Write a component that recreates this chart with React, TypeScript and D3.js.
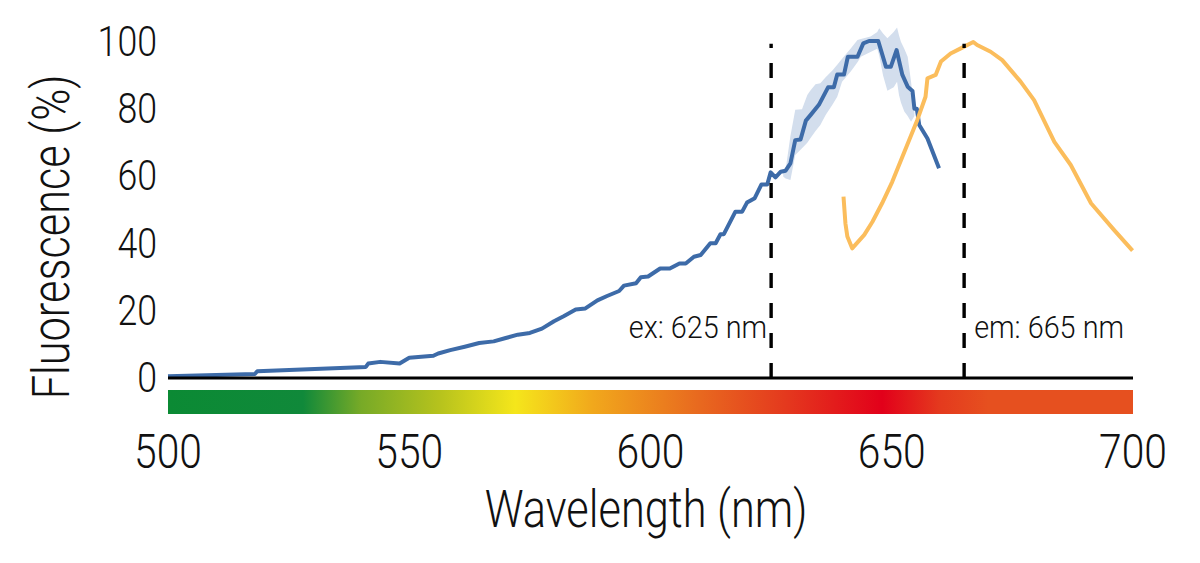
import React from 'react';
import * as d3 from 'd3';

// excitation spectrum (blue)
const exNm = [500, 518, 518.5, 541, 541.5, 544, 548, 550, 555, 556, 558.5, 561.5, 564.5, 567.5, 570, 572.5, 575, 577.5, 580, 582, 584.5, 586.5, 589, 591, 593.5, 594.5, 597, 598, 599.5, 602, 604, 606, 607.3, 609, 610.4, 612.4, 613.5, 614.5, 615.2, 617.6, 619, 620, 621.6, 623, 624.2, 624.9, 625.9, 627, 628, 629, 630, 631.1, 632.2, 633.2, 634.9, 636.8, 638, 638.7, 640.1, 640.9, 642.9, 644.1, 645.3, 647.2, 648.8, 649.8, 651, 652.2, 653.3, 654.3, 654.7, 655.2, 655.7, 657.4, 659.8];
const exVal = [0.5, 1.2, 2.0, 3.3, 4.3, 4.8, 4.3, 6.0, 6.6, 7.3, 8.3, 9.3, 10.4, 10.9, 11.9, 12.9, 13.4, 14.7, 16.9, 18.4, 20.4, 20.7, 23.1, 24.4, 25.9, 27.5, 28.2, 30.0, 30.2, 32.6, 32.6, 34.1, 34.1, 36.1, 36.6, 40.1, 40.1, 42.8, 42.8, 49.5, 49.5, 52.2, 53.5, 57.6, 57.6, 61.2, 59.7, 61.4, 61.7, 63.9, 70.8, 71.0, 76.6, 78.3, 81.3, 86.5, 86.5, 90.3, 90.3, 95.6, 95.6, 99.6, 100.3, 100.3, 92.6, 92.6, 97.6, 90.2, 86.7, 85.4, 80.1, 80.1, 75.3, 71.3, 62.4];

// spread around the excitation peak
const bandNm = [627.5, 628, 629, 630, 631.4, 632.5, 633.1, 634.2, 635.2, 636.3, 637.7, 638.7, 639.7, 641.5, 642.9, 643.6, 645.6, 647, 647.4, 648.2, 649.1, 650.4, 651.1, 651.5, 651.9, 652.6, 653.3, 654, 654.7];
const bandLo = [60, 59.4, 58.9, 66.4, 68.4, 70, 71.3, 73.5, 75.3, 78.3, 81.3, 83.7, 88.2, 91.2, 94, 95.6, 97, 98, 96, 90, 85.5, 86.5, 88.2, 84.2, 82, 79.3, 78, 76.3, 78];
const bandHi = [61, 62, 72, 79.8, 80, 84.2, 85.5, 87.4, 87.7, 89.5, 91.5, 93.2, 95, 98.1, 100.6, 100.9, 101.6, 103, 104.1, 102.5, 101.1, 103, 104.3, 102, 100.1, 98, 95.6, 88.2, 79.3];

// emission spectrum (orange)
const emNm = [640, 640.4, 640.8, 641.8, 644.3, 646, 648, 650.1, 652.5, 655.3, 657, 657.4, 659.1, 660.2, 662.2, 664.3, 666.9, 667.7, 670.5, 672.9, 676.7, 679.5, 683.7, 687.1, 691.3, 696.1, 699.9];
const emVal = [54.0, 46, 42.1, 38.6, 42.6, 46.5, 52, 58.4, 66.9, 76.8, 83.7, 89.2, 90.2, 94.2, 96.6, 98.1, 100, 99.1, 97.1, 94.6, 88.2, 82.7, 70.3, 63.4, 52, 44, 37.9];

const xTicks = [500, 550, 600, 650, 700];
const yTicks = [0, 20, 40, 60, 80, 100];
const markers = [
  { nm: 625, label: 'ex: 625 nm', side: 'left' },
  { nm: 665, label: 'em: 665 nm', side: 'right' },
];

// spectrum colour bar stops (nm, colour)
const specNm = [500, 528, 540, 556, 572, 588, 610, 628, 648, 660, 670, 700];
const specColor = ['#0b8a34', '#10893a', '#77aa27', '#b5c21d', '#f5e61b', '#f1a81c', '#e8691f', '#e4391e', '#e2001a', '#e43a1e', '#e6501f', '#e6501f'];

const W = 1200;
const H = 563;
const FONT = 'Roboto, "DejaVu Sans", sans-serif';
const SX = 0.85;

export default function App() {
  const x = d3.scaleLinear().domain([500, 700]).range([168, 1133]);
  const y = d3.scaleLinear().domain([0, 100]).range([378, 42]);

  const exLine = d3.line<number>().x((_, i) => x(exNm[i])).y(d => y(d));
  const emLine = d3.line<number>().x((_, i) => x(emNm[i])).y(d => y(d));
  const band = d3.area<number>()
    .x(d => x(d))
    .y0((_, i) => y(bandLo[i]))
    .y1((_, i) => y(bandHi[i]));

  return (
    <div style={{ position: 'absolute', left: 0, top: 0 }}>
      <svg width={W} height={H} style={{ display: 'block', background: '#fff' }}>
        <defs>
          <linearGradient id="spec" x1="0" x2="1" y1="0" y2="0">
            {specNm.map((n, i) => (
              <stop key={i} offset={(n - 500) / 200} stopColor={specColor[i]} />
            ))}
          </linearGradient>
        </defs>

        {/* spread band + curves */}
        <path d={band(bandNm) ?? ''} fill="#d3deed" />
        <path d={exLine(exVal) ?? ''} fill="none" stroke="#3d6ba8" strokeWidth={4} strokeLinejoin="round" />
        <path d={emLine(emVal) ?? ''} fill="none" stroke="#fbbd5c" strokeWidth={4} strokeLinejoin="round" />

        {/* baseline */}
        <line x1={x(500)} x2={x(700)} y1={y(0)} y2={y(0)} stroke="#000" strokeWidth={3} />

        {/* colour bar */}
        <rect x={x(500)} y={390} width={x(700) - x(500)} height={24} fill="url(#spec)" />

        {/* excitation / emission markers */}
        {markers.map(m => (
          <g key={m.nm}>
            <line x1={x(m.nm)} x2={x(m.nm)} y1={y(0)} y2={y(99.5)} stroke="#000" strokeWidth={3.4} strokeDasharray="15,15" />
            <text
              transform={`translate(${m.side === 'left' ? x(m.nm) - 4 : x(m.nm) + 10},338) scale(0.93,1)`}
              textAnchor={m.side === 'left' ? 'end' : 'start'}
              fontFamily={FONT}
              fontWeight={300}
              fontSize={31}
              fill="#111"
            >
              {m.label}
            </text>
          </g>
        ))}

        {/* y ticks */}
        {yTicks.map(t => (
          <text
            key={t}
            transform={`translate(157,${y(t)}) scale(${SX},1)`}
            textAnchor="end"
            dominantBaseline="central"
            fontFamily={FONT}
            fontWeight={300}
            fontSize={42}
            fill="#111"
          >
            {t}
          </text>
        ))}

        {/* x ticks */}
        {xTicks.map(t => (
          <text
            key={t}
            transform={`translate(${x(t)},468) scale(${SX},1)`}
            textAnchor="middle"
            fontFamily={FONT}
            fontWeight={300}
            fontSize={48}
            fill="#111"
          >
            {t}
          </text>
        ))}

        {/* axis titles */}
        <text
          transform={`translate(646,527) scale(${SX},1)`}
          textAnchor="middle"
          fontFamily={FONT}
          fontWeight={300}
          fontSize={51}
          fill="#111"
        >
          Wavelength (nm)
        </text>
        <text
          transform={`translate(69,237) rotate(-90) scale(${SX},1)`}
          textAnchor="middle"
          fontFamily={FONT}
          fontWeight={300}
          fontSize={51}
          fill="#111"
        >
          Fluorescence (%)
        </text>
      </svg>
    </div>
  );
}
